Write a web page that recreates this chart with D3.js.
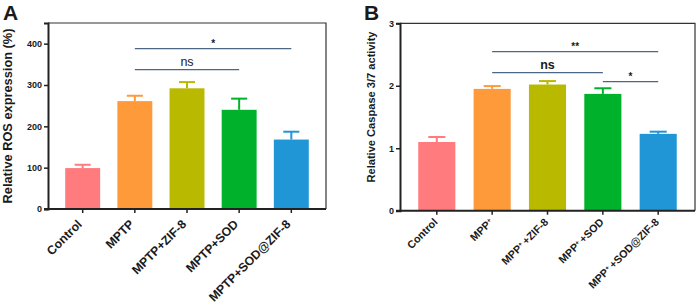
<!DOCTYPE html>
<meta charset="utf-8">
<style>
  body { margin: 0; background: #fff; }
  text { font-family: "Liberation Sans", Arial, sans-serif; fill: #1a1a1a; }
  .tick text { font-weight: bold; font-size: 9px; }
  .ylab { font-weight: bold; }
  .xlab { font-weight: bold; }
  .panel { font-weight: bold; font-size: 21px; }
  .sig { stroke: #4d6684; stroke-width: 1.3px; }
</style>
<svg width="699" height="307"></svg>
<script src="https://d3js.org/d3.v7.min.js"></script>
<script>
  var colors = ["#ff7b7d", "#fe9a3a", "#b9b900", "#00b22b", "#2196d6"];

  // panel A
  var catsA = ["Control", "MPTP", "MPTP+ZIF-8", "MPTP+SOD", "MPTP+SOD@ZIF-8"];
  var meansA = [99, 261, 292, 240, 168];
  var errA = [8, 13, 15, 27, 19];
  var ticksA = [0, 100, 200, 300, 400];
  var sigA = [{from: 1, to: 4, y: 388, label: "*"}, {from: 1, to: 3, y: 337, label: "ns"}];

  // panel B
  var catsB = ["Control", "MPP", "MPP+ZIF-8", "MPP+SOD", "MPP+SOD@ZIF-8"];
  var meansB = [1.10, 1.95, 2.02, 1.87, 1.23];
  var errB = [0.08, 0.045, 0.055, 0.09, 0.035];
  var ticksB = [0, 1, 2, 3];
  var sigB = [{from: 1, to: 4, y: 2.545, label: "**"}, {from: 1, to: 3, y: 2.21, label: "ns"}, {from: 3, to: 4, y: 2.065, label: "*"}];

  var svg = d3.select("svg");

  function panel(opt) {
    var g = svg.append("g");
    var x = d3.scaleBand().domain(d3.range(opt.cats.length)).range([opt.left, opt.right]).padding(0.33);
    var y = d3.scaleLinear().domain([0, opt.max]).range([opt.bottom, opt.top]);

    // frame top / right
    g.append("path")
      .attr("d", "M" + opt.left + "," + opt.top + "H" + opt.right + "V" + opt.bottom)
      .attr("fill", "none").attr("stroke", "#333").attr("stroke-width", 1.2);

    // bars
    g.selectAll(".bar").data(opt.means).enter().append("rect")
      .attr("x", function(d, i) { return x(i); })
      .attr("y", function(d) { return y(d); })
      .attr("width", x.bandwidth())
      .attr("height", function(d) { return y(0) - y(d); })
      .attr("fill", function(d, i) { return colors[i]; });

    // error bars
    var eb = g.selectAll(".eb").data(opt.means).enter().append("g")
      .attr("stroke", function(d, i) { return colors[i]; })
      .attr("stroke-width", 2);
    eb.append("line")
      .attr("x1", function(d, i) { return x(i) + x.bandwidth() / 2; })
      .attr("x2", function(d, i) { return x(i) + x.bandwidth() / 2; })
      .attr("y1", function(d) { return y(d); })
      .attr("y2", function(d, i) { return y(d + opt.err[i]); });
    eb.append("line")
      .attr("x1", function(d, i) { return x(i) + x.bandwidth() * 0.27; })
      .attr("x2", function(d, i) { return x(i) + x.bandwidth() * 0.73; })
      .attr("y1", function(d, i) { return y(d + opt.err[i]); })
      .attr("y2", function(d, i) { return y(d + opt.err[i]); });

    // y axis
    var ya = g.append("g").attr("transform", "translate(" + opt.left + ",0)")
      .call(d3.axisLeft(y).tickValues(opt.ticks).tickFormat(d3.format("d")).tickSize(4).tickPadding(2));
    ya.select(".domain").attr("stroke", "#222").attr("stroke-width", 2);
    ya.selectAll(".tick line").attr("stroke", "#222").attr("stroke-width", 1.5);

    // x axis
    var xa = g.append("g").attr("transform", "translate(0," + opt.bottom + ")")
      .call(d3.axisBottom(x).tickSize(4).tickFormat(""));
    xa.select(".domain").attr("d", "M" + (opt.left - 4) + ",0H" + opt.right).attr("stroke", "#222").attr("stroke-width", 2);
    xa.selectAll(".tick line").attr("stroke", "#222").attr("stroke-width", 1.5);

    // x labels
    opt.cats.forEach(function(c, i) {
      var cx = x(i) + x.bandwidth() / 2 + opt.xdx;
      var t = g.append("text").attr("class", "xlab")
        .attr("text-anchor", "end")
        .attr("font-size", opt.xfs)
        .attr("transform", "translate(" + cx + "," + (opt.bottom + opt.xdy) + ") rotate(-45)");
      if (opt.sup && c.indexOf("MPP") === 0) {
        t.append("tspan").text("MPP");
        t.append("tspan").attr("baseline-shift", "super").attr("font-size", opt.xfs * 0.6).text("+");
        if (c.length > 3) t.append("tspan").attr("dx", 2).text(c.slice(3));
      } else {
        t.text(c);
      }
    });

    // y label
    g.append("text").attr("class", "ylab")
      .attr("font-size", opt.yfs)
      .attr("text-anchor", "middle")
      .attr("transform", "translate(" + opt.ylx + "," + opt.yly + ") rotate(-90)")
      .text(opt.ylabel);

    // significance
    opt.sig.forEach(function(s) {
      var x1 = x(s.from) + x.bandwidth() / 2, x2 = x(s.to) + x.bandwidth() / 2;
      g.append("line").attr("class", "sig")
        .attr("x1", x1).attr("x2", x2).attr("y1", y(s.y)).attr("y2", y(s.y));
      g.append("text")
        .attr("x", (x1 + x2) / 2)
        .attr("y", y(s.y) - (s.label === "ns" ? 4 : 2))
        .attr("text-anchor", "middle")
        .attr("font-size", s.label === "ns" ? 12.5 : 10)
        .attr("font-weight", opt.sigBold || s.label !== "ns" ? "bold" : "normal")
        .text(s.label);
    });

    g.append("text").attr("class", "panel").attr("x", opt.plx).attr("y", 20).text(opt.panel);
  }

  panel({cats: catsA, means: meansA, err: errA, ticks: ticksA, sig: sigA, max: 450,
    left: 48, right: 326, top: 23, bottom: 209, xfs: 12.3, xdx: 0, xdy: 16, yfs: 12.8,
    ylabel: "Relative ROS expression (%)", ylx: 11.5, yly: 116, panel: "A", plx: 3});

  panel({cats: catsB, means: meansB, err: errB, ticks: ticksB, sig: sigB, max: 3,
    left: 400, right: 695, top: 23.3, bottom: 210.7, xfs: 10.7, xdx: 1.5, xdy: 12, yfs: 11.1, sup: true, sigBold: true,
    ylabel: "Relative Caspase 3/7 activity", ylx: 375, yly: 107, panel: "B", plx: 364});
</script>
